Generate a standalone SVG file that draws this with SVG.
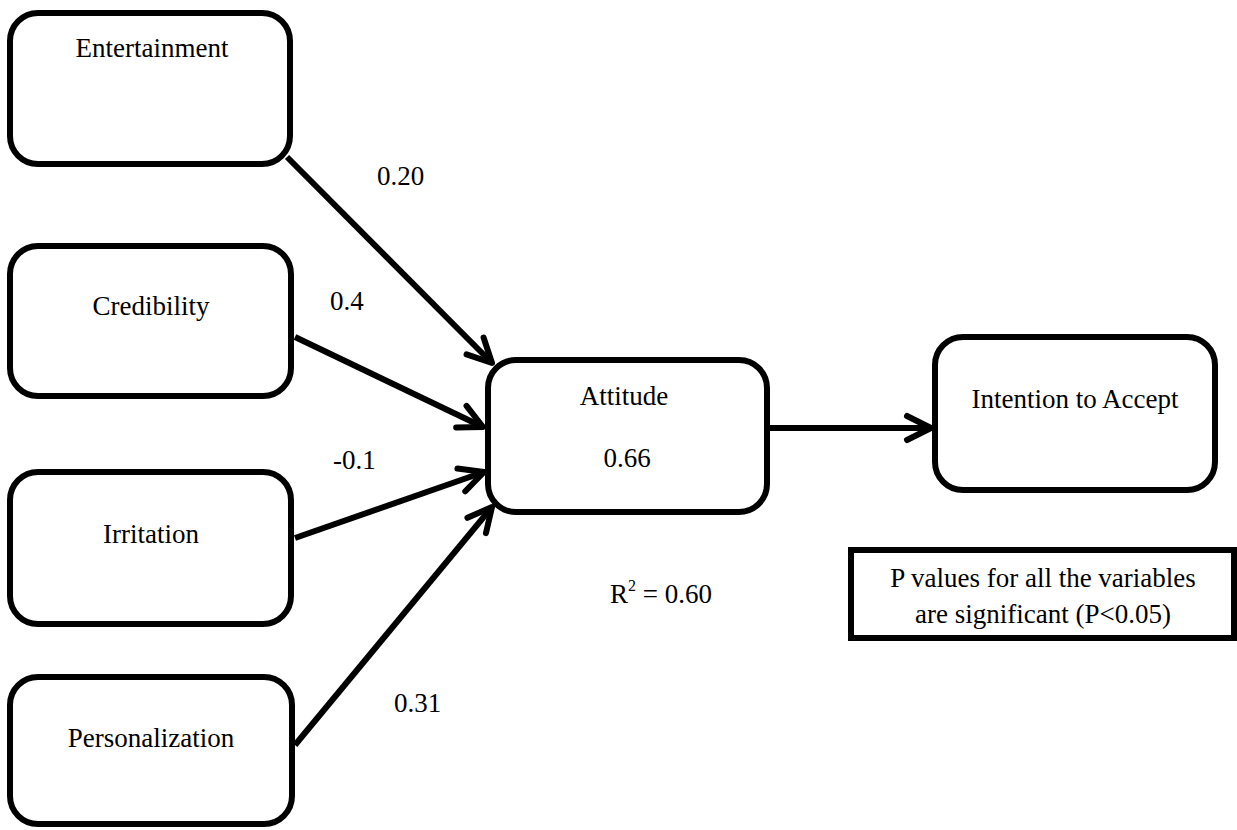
<svg xmlns="http://www.w3.org/2000/svg" width="1237" height="830" viewBox="0 0 1237 830">
<style>
.box{fill:#fff;stroke:#000;stroke-width:6}
.t{font-family:"Liberation Serif","Times New Roman",serif;font-size:27px;fill:#000}
.c{text-anchor:middle}
.edge{fill:none;stroke:#000;stroke-width:6}
</style>
<defs>
<marker id="arr" markerUnits="userSpaceOnUse" markerWidth="40" markerHeight="40" viewBox="-30 -20 40 40" refX="0" refY="0" orient="auto" overflow="visible">
<path d="M-24,-12 L0,0 L-24,12" fill="none" stroke="#000" stroke-width="6" stroke-linecap="round" stroke-linejoin="round"/>
</marker>
</defs>
<rect width="1237" height="830" fill="#fff"/>
<g id="connectors">
<path class="edge" d="M287,157 L492,363" marker-end="url(#arr)"/>
<path class="edge" d="M295,337 L483,427" marker-end="url(#arr)"/>
<path class="edge" d="M295,538 L484,472" marker-end="url(#arr)"/>
<path class="edge" d="M295,745 L492,507" marker-end="url(#arr)"/>
<path class="edge" d="M770,428 L931,428" marker-end="url(#arr)"/>
</g>
<g id="entertainment">
<rect class="box" x="10" y="13" width="280" height="151" rx="28"/>
<text class="t c" x="152" y="57">Entertainment</text>
</g>
<g id="credibility">
<rect class="box" x="10" y="246" width="281" height="150" rx="28"/>
<text class="t c" x="151" y="315">Credibility</text>
</g>
<g id="irritation">
<rect class="box" x="10" y="472" width="281" height="152" rx="28"/>
<text class="t c" x="151" y="543">Irritation</text>
</g>
<g id="personalization">
<rect class="box" x="10" y="677" width="282" height="147" rx="28"/>
<text class="t c" x="151" y="747">Personalization</text>
</g>
<g id="attitude">
<rect class="box" x="488" y="360" width="279" height="152" rx="28"/>
<text class="t c" x="624" y="405">Attitude</text>
<text class="t c" x="627" y="467">0.66</text>
</g>
<g id="intention">
<rect class="box" x="935" y="337" width="280" height="153" rx="28"/>
<text class="t c" x="1075" y="408">Intention to Accept</text>
</g>
<g id="labels">
<text class="t" x="377" y="185">0.20</text>
<text class="t" x="330" y="310">0.4</text>
<text class="t" x="333" y="469">-0.1</text>
<text class="t" x="394" y="712">0.31</text>
<text class="t" x="610" y="603">R<tspan font-size="16" dy="-12">2</tspan><tspan dy="12"> = 0.60</tspan></text>
</g>
<g id="note">
<rect x="851" y="550" width="383" height="88" fill="#fff" stroke="#000" stroke-width="6"/>
<text class="t c" x="1043" y="587">P values for all the variables</text>
<text class="t c" x="1043" y="623">are significant (P&lt;0.05)</text>
</g>
</svg>
